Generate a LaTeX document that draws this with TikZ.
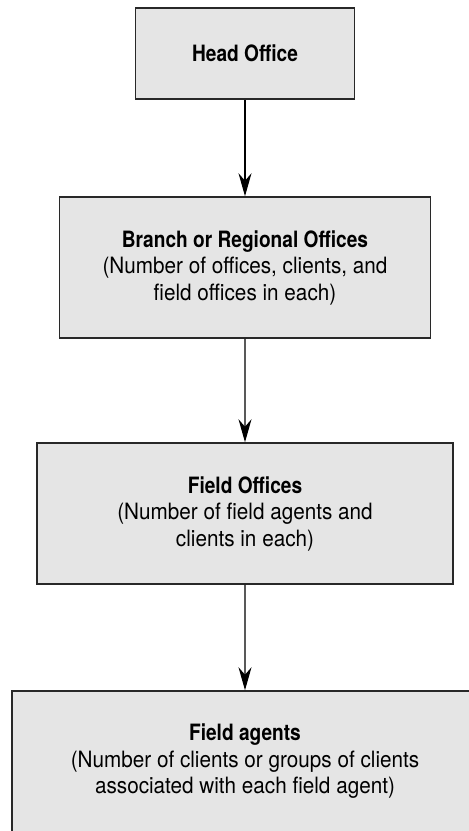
\documentclass[tikz,border=0pt]{standalone}
\usepackage{fontspec}
\setmainfont{TeX Gyre Heros}[FakeStretch=0.92, BoldFeatures={FakeStretch=0.85}]
\usetikzlibrary{trees,arrows.meta}
\definecolor{boxgray}{RGB}{229,229,229}
\definecolor{boxline}{RGB}{40,40,40}

\begin{document}
\begin{tikzpicture}[x=1pt,y=1pt,
            level 1/.style={level distance=214pt},
            level 2/.style={level distance=246pt},
            level 3/.style={level distance=248pt},
            edge from parent/.style={},
            officeBox/.style={rectangle, draw=boxline, line width=1.5pt, fill=boxgray, align=center,
                font=\fontsize{22.5}{26.5}\selectfont, minimum height=141pt},
            flowArrow/.style={-{Stealth[length=23pt,width=13pt]}, line width=1.2pt}]

            \useasboundingbox (0,0) rectangle (469,-831);
            \clip (0,0) rectangle (469,-831);

            \node [officeBox, minimum width=219pt, minimum height=91pt](head) at (245,-53.5){\textbf{Head Office}}
            child
            {
                node [officeBox, minimum width=371pt](branch){\textbf{Branch or Regional Offices}\\(Number of offices, clients, and\\field offices in each)}
                child
                {
                    node [officeBox, minimum width=416pt](fieldOffice){\textbf{Field Offices}\\(Number of field agents and\\clients in each)}
                    child{node [officeBox, minimum width=466pt](agent){\textbf{Field agents}\\(Number of clients or groups of clients\\associated with each field agent)}}
                }
            };

            \draw[flowArrow] (head) -- (branch);
            \draw[flowArrow] (branch) -- (fieldOffice);
            \draw[flowArrow] (fieldOffice) -- (agent);
        \end{tikzpicture}
\end{document}
